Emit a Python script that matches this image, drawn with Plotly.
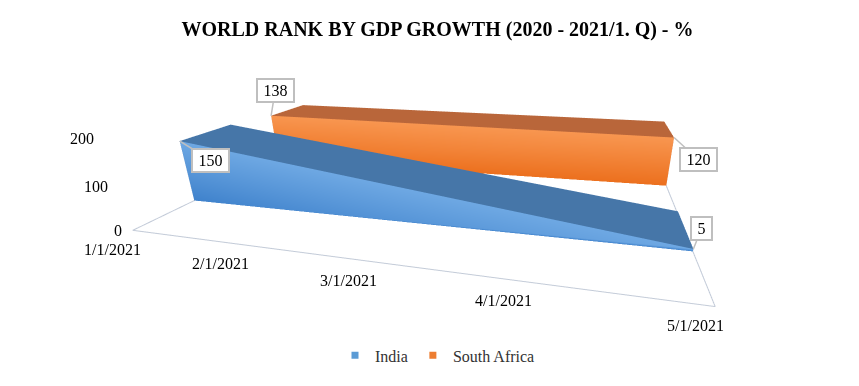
import pandas as pd
import plotly.graph_objects as go

# ---- data ----
dates = ["1/1/2021", "2/1/2021", "3/1/2021", "4/1/2021", "5/1/2021"]
point_dates = ["1/1/2021", "5/1/2021"]
india = [150, 5]
south_africa = [138, 120]
series_names = ["India", "South Africa"]
z_ticks = [0, 100, 200]
title = "WORLD RANK BY GDP GROWTH (2020 - 2021/1. Q) - %"

cat = pd.to_datetime(dates, format="%m/%d/%Y")


def month_index(ds):
    d = pd.to_datetime(ds, format="%m/%d/%Y")
    return [(t.year - cat[0].year) * 12 + t.month - cat[0].month for t in d]


xs = month_index(point_dates)
tick_pos = month_index(dates)

SERIF = "Liberation Serif, Times New Roman, serif"

styles = {
    "India": dict(depth=(1.0, 2.0), top="#6ea8e3", bot="#3f82cc",
                  lid="#4676a8", end="#3a70ad", legend="#5b9bd5"),
    "South Africa": dict(depth=(3.0, 4.0), top="#f89650", bot="#ec701e",
                         lid="#b9663a", end="#c8692e", legend="#ed7d31"),
}

flat = dict(ambient=1.0, diffuse=0.0, specular=0.0, roughness=1.0, fresnel=0.0)

fig = go.Figure()


def add_slab(name, vals):
    st = styles[name]
    y0, y1 = st["depth"]
    for s in range(len(xs) - 1):
        xa, xb = xs[s], xs[s + 1]
        va, vb = vals[s], vals[s + 1]
        fig.add_trace(go.Mesh3d(
            x=[xa, xb, xb, xa], y=[y0] * 4, z=[0, 0, vb, va],
            i=[0, 0], j=[1, 2], k=[2, 3],
            vertexcolor=[st["bot"], st["bot"], st["top"], st["top"]],
            lighting=flat, flatshading=True, hoverinfo="skip", showlegend=False))
        fig.add_trace(go.Mesh3d(
            x=[xa, xb, xb, xa], y=[y0, y0, y1, y1], z=[va, vb, vb, va],
            i=[0, 0], j=[1, 2], k=[2, 3], color=st["lid"],
            lighting=flat, flatshading=True, hoverinfo="skip", showlegend=False))
        fig.add_trace(go.Mesh3d(
            x=[xa, xb, xb, xa], y=[y1] * 4, z=[0, 0, vb, va],
            i=[0, 0], j=[1, 2], k=[2, 3], color=st["lid"],
            lighting=flat, flatshading=True, hoverinfo="skip", showlegend=False))
    for xe, ve in ((xs[0], vals[0]), (xs[-1], vals[-1])):
        fig.add_trace(go.Mesh3d(
            x=[xe] * 4, y=[y0, y1, y1, y0], z=[0, 0, ve, ve],
            i=[0, 0], j=[1, 2], k=[2, 3], color=st["end"],
            lighting=flat, flatshading=True, hoverinfo="skip", showlegend=False))


add_slab("India", india)
add_slab("South Africa", south_africa)

fx0, fx1 = tick_pos[0], tick_pos[-1]
fig.add_trace(go.Scatter3d(
    x=[fx0, fx0, fx1, fx1], y=[5, 0, 0, 5], z=[0] * 4,
    mode="lines", line=dict(color="#c3cbd8", width=2),
    hoverinfo="skip", showlegend=False))

for nm in series_names:
    fig.add_trace(go.Scatter3d(
        x=[None], y=[None], z=[None], mode="markers", name=nm,
        marker=dict(symbol="square", size=7, color=styles[nm]["legend"])))

LABEL_SIZE = 16
box = dict(showarrow=True, arrowhead=0, arrowcolor="#bfbfbf", arrowwidth=1.5,
           bgcolor="white", bordercolor="#bfbfbf", borderwidth=2, borderpad=2,
           font=dict(family=SERIF, size=LABEL_SIZE, color="black"))


def label(xv, series, val, ax, ay):
    txt = str(val)
    return dict(x=xv, y=styles[series]["depth"][0], z=val, text=txt,
                width=8 * len(txt) + 7, ax=ax, ay=ay, **box)


annots = [
    label(xs[0], "India", india[0], 31, 19),
    label(xs[-1], "India", india[-1], 8, -20),
    label(xs[0], "South Africa", south_africa[0], 4, -25),
    label(xs[-1], "South Africa", south_africa[-1], 24, 22),
]
lab_font = dict(family=SERIF, size=LABEL_SIZE, color="black")
for tp, tt in zip(tick_pos, dates):
    annots.append(dict(x=tp, y=0, z=0, text=tt, showarrow=False,
                       xshift=-20, yshift=-19, font=lab_font))
for zv in z_ticks:
    annots.append(dict(x=fx0, y=0, z=zv, text=str(zv), showarrow=False,
                       xanchor="right", xshift=-9, font=lab_font))

axis_common = dict(showgrid=False, showbackground=False, zeroline=False,
                   showline=False, showspikes=False, title=dict(text=""),
                   ticks="", showticklabels=False)

fig.update_layout(
    width=859, height=386,
    paper_bgcolor="white",
    margin=dict(l=0, r=0, t=0, b=0),
    title=dict(text=f"<b>{title}</b>", x=0.5, y=0.946, xanchor="center",
               yanchor="middle", font=dict(family=SERIF, size=20, color="black")),
    legend=dict(orientation="h", x=0.5, xanchor="center", y=0.1, yanchor="middle",
                itemwidth=30, font=dict(family=SERIF, size=16, color="#333333")),
    hovermode=False,
    scene=dict(
        domain=dict(x=[0, 1], y=[0, 1]),
        xaxis=dict(range=[fx0, fx1], **axis_common),
        yaxis=dict(range=[0, 5], visible=False),
        zaxis=dict(range=[0, 200], **axis_common),
        aspectmode="manual",
        aspectratio=dict(x=3.82, y=3.0, z=0.693),
        camera=dict(eye=dict(x=1.204, y=-3.787, z=1.069),
                    center=dict(x=0.058, y=-0.259, z=-0.429),
                    up=dict(x=-0.0825, y=0.3669, z=0.9266)),
        annotations=annots,
    ),
)

fig.write_html("out.html")
